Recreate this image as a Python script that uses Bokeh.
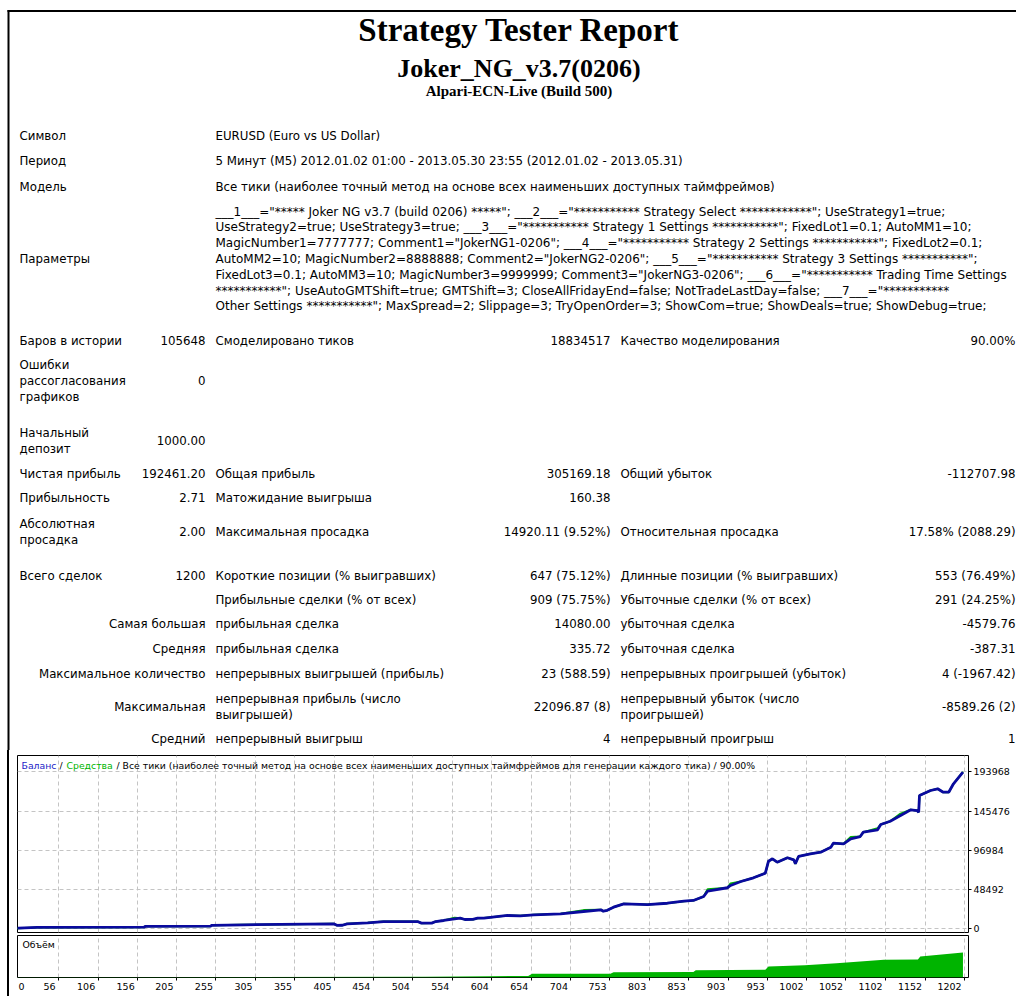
from bokeh.plotting import figure
from bokeh.layouts import column
from bokeh.models import (Range1d, FixedTicker, Label, ColumnDataSource,
                          BoxAnnotation, NumeralTickFormatter)
from bokeh.core.properties import value
from bokeh.embed import file_html
from bokeh.resources import INLINE

# ---------------------------------------------------------------- data
TITLE = "Strategy Tester Report"
EA_NAME = "Joker_NG_v3.7(0206)"
SERVER = "Alpari-ECN-Live (Build 500)"

HEAD_LABELS = ["Символ", "Период", "Модель"]
HEAD_VALUES = [
    "EURUSD (Euro vs US Dollar)",
    "5 Минут (M5) 2012.01.02 01:00 - 2013.05.30 23:55 (2012.01.02 - 2013.05.31)",
    "Все тики (наиболее точный метод на основе всех наименьших доступных таймфреймов)",
]
PARAM_LABEL = "Параметры"
PARAM_LINES = [
    '___1___="***** Joker NG v3.7 (build 0206) *****"; ___2___="*********** Strategy Select ************"; UseStrategy1=true;',
    'UseStrategy2=true; UseStrategy3=true; ___3___="*********** Strategy 1 Settings ***********"; FixedLot1=0.1; AutoMM1=10;',
    'MagicNumber1=7777777; Comment1="JokerNG1-0206"; ___4___="*********** Strategy 2 Settings ***********"; FixedLot2=0.1;',
    'AutoMM2=10; MagicNumber2=8888888; Comment2="JokerNG2-0206"; ___5___="*********** Strategy 3 Settings ***********";',
    'FixedLot3=0.1; AutoMM3=10; MagicNumber3=9999999; Comment3="JokerNG3-0206"; ___6___="*********** Trading Time Settings',
    '***********"; UseAutoGMTShift=true; GMTShift=3; CloseAllFridayEnd=false; NotTradeLastDay=false; ___7___="***********',
    'Other Settings ***********"; MaxSpread=2; Slippage=3; TryOpenOrder=3; ShowCom=true; ShowDeals=true; ShowDebug=true;',
]

STAT_LABEL1 = ["Баров в истории", "Ошибки\nрассогласования\nграфиков", "Начальный\nдепозит",
               "Чистая прибыль", "Прибыльность", "Абсолютная\nпросадка", "Всего сделок", "",
               "Самая большая", "Средняя", "Максимальное количество", "Максимальная", "Средний"]
STAT_VALUE1 = ["105648", "0", "1000.00", "192461.20", "2.71", "2.00", "1200", "", "", "", "", "", ""]
STAT_LABEL2 = ["Смоделировано тиков", "", "", "Общая прибыль", "Матожидание выигрыша",
               "Максимальная просадка", "Короткие позиции (% выигравших)",
               "Прибыльные сделки (% от всех)", "прибыльная сделка", "прибыльная сделка",
               "непрерывных выигрышей (прибыль)", "непрерывная прибыль (число\nвыигрышей)",
               "непрерывный выигрыш"]
STAT_VALUE2 = ["18834517", "", "", "305169.18", "160.38", "14920.11 (9.52%)", "647 (75.12%)",
               "909 (75.75%)", "14080.00", "335.72", "23 (588.59)", "22096.87 (8)", "4"]
STAT_LABEL3 = ["Качество моделирования", "", "", "Общий убыток", "", "Относительная просадка",
               "Длинные позиции (% выигравших)", "Убыточные сделки (% от всех)",
               "убыточная сделка", "убыточная сделка", "непрерывных проигрышей (убыток)",
               "непрерывный убыток (число\nпроигрышей)", "непрерывный проигрыш"]
STAT_VALUE3 = ["90.00%", "", "", "-112707.98", "", "17.58% (2088.29)", "553 (76.49%)",
               "291 (24.25%)", "-4579.76", "-387.31", "4 (-1967.42)", "-8589.26 (2)", "1"]

# balance / equity curve (trade number, account value)
TRADES = [0, 5, 29, 164, 166, 248, 250, 290, 404, 408, 415, 421, 447, 467, 510, 515, 528, 533,
          543, 557, 564, 570, 580, 586, 594, 624, 640, 657, 691, 720, 742, 745, 750, 758, 771,
          801, 826, 847, 859, 872, 877, 902, 906, 919, 935, 950, 954, 959, 965, 978, 986, 988,
          992, 1007, 1020, 1033, 1036, 1049, 1058, 1070, 1074, 1092, 1096, 1108, 1121, 1134,
          1142, 1144, 1145, 1159, 1168, 1175, 1182, 1188, 1200]
BALANCE = [1000, 1000, 2000, 2200, 3300, 3500, 4500, 5200, 6400, 4500, 4600, 6400, 7600, 9200,
           9200, 7200, 7300, 9200, 10500, 12600, 13300, 11700, 11800, 13300, 13500, 16700, 16200,
           17500, 18700, 21600, 23700, 22000, 23000, 26900, 31100, 30200, 31800, 34300, 35200,
           40100, 46700, 50900, 53700, 58600, 63200, 68900, 83700, 86600, 82400, 87900, 85400,
           80500, 89500, 92800, 94800, 101000, 105900, 105100, 111300, 114100, 119500, 122400,
           129000, 133000, 140000, 147100, 146200, 144100, 164700, 170900, 173000, 168800,
           168800, 179200, 193461]
EQUITY = [1000, 1000, 2000, 2200, 3300, 3500, 4500, 5200, 6400, 4500, 4600, 6400, 7600, 9200,
          9200, 7200, 7300, 9200, 10500, 14000, 13300, 11700, 11800, 13300, 13500, 16700, 16200,
          17500, 18700, 23300, 23700, 22000, 23000, 26900, 31100, 30200, 31800, 34300, 35200,
          40100, 49000, 50900, 56200, 58600, 63200, 68900, 83700, 86600, 82400, 87900, 85400,
          80500, 89500, 92800, 94800, 101000, 105900, 105100, 113600, 114100, 119500, 124300,
          129000, 133000, 142400, 147100, 146200, 144100, 164700, 170900, 173000, 168800,
          168800, 179200, 193968]

# traded volume (lots) per trade
VOL_TRADES = [0, 300, 520, 600, 650, 655, 754, 758, 859, 862, 950, 954, 1000, 1040, 1100, 1143,
              1146, 1200]
VOL_LOTS = [0.1, 0.3, 0.6, 1.0, 1.2, 2.9, 3.0, 4.1, 4.3, 5.6, 6.0, 8.6, 9.6, 11.0, 13.8, 14.0,
            16.4, 19.5]

X_TICKS = [0, 56, 106, 156, 205, 255, 305, 355, 405, 454, 504, 554, 604, 654, 704, 753, 803, 853,
           903, 953, 1002, 1052, 1102, 1152, 1202]
X_TICK_LABELS = [str(t) for t in X_TICKS]
Y_TICKS = [0, 48492, 96984, 145476, 193968]

LEGEND_BAL = "Баланс"
LEGEND_EQ = "Средства"
LEGEND_SEP = "/"
LEGEND_REST = "/ Все тики (наиболее точный метод на основе всех наименьших доступных таймфреймов для генерации каждого тика) / 90.00%"
VOLUME_LABEL = "Объём"

# ---------------------------------------------------------------- styles / layout
BODY_FONT = "DejaVu Sans"
BODY_SIZE = "11.8px"
PARAM_SIZE = "12px"
CHART_FONT = "DejaVu Sans"
CHART_SIZE = "9.5px"
LEGEND_SIZE = "9.3px"
BLUE = "#0a0a9e"
LEGEND_BLUE = "#1c1cc8"
GREEN = "#00b400"
GRID = "#c4c4c4"

W = 1016
TOP_H, BAL_H, VOL_H = 750, 185, 61
BORDER_L, BORDER_R = 17, 48
FRAME_W = W - BORDER_L - BORDER_R

X_MIN, X_MAX = 4, 1207
Y_MIN, Y_MAX = -4320, 214100
V_MIN, V_MAX = 0, 32.7


def add_texts(fig, xs, ys, texts, align="left", font=BODY_FONT, size=BODY_SIZE,
              style="normal", color="#000000", baseline="middle"):
    src = ColumnDataSource(dict(x=xs, y=ys, text=texts))
    fig.text(x="x", y="y", text="text", source=src, text_align=align,
             text_baseline=baseline, text_font=value(font), text_font_size=size,
             text_font_style=style, text_color=color)


# ---------------------------------------------------------------- report part (pixel coordinates)
top = figure(width=W, height=TOP_H, x_range=Range1d(0, W), y_range=Range1d(TOP_H, 0),
             output_backend="svg", toolbar_location=None, min_border=0,
             x_axis_location=None, y_axis_location=None, outline_line_color=None,
             styles={"overflow": "hidden"})
top.grid.visible = False
# page border (top and left)
top.add_layout(BoxAnnotation(left=7, right=W, top=9.5, bottom=11.5, fill_color="#000000",
                             fill_alpha=1, line_color=None))
top.add_layout(BoxAnnotation(left=7, right=9, top=9.5, bottom=TOP_H, fill_color="#000000",
                             fill_alpha=1, line_color=None))

CX = 518.5
add_texts(top, [CX], [29], [TITLE], align="center", font="Liberation Serif", size="33px",
          style="bold", baseline="alphabetic")
add_texts(top, [CX], [68], [EA_NAME], align="center", font="Liberation Serif", size="26px",
          style="bold", baseline="alphabetic")
add_texts(top, [CX], [90], [SERVER], align="center", font="Liberation Serif", size="15px",
          style="bold", baseline="alphabetic")

X_L1, X_V1, X_L2, X_V2, X_L3, X_V3 = 19, 205, 215, 610, 620, 1015
LINE_STEP = 16

left_x, left_y, left_t = [], [], []
right_x, right_y, right_t = [], [], []

HEAD_Y = [135, 160, 186]
for lab, val, y in zip(HEAD_LABELS, HEAD_VALUES, HEAD_Y):
    left_x += [X_L1, X_L2]
    left_y += [y, y]
    left_t += [lab, val]

PARAM_Y0 = 211
PARAM_STEP = 15.8
add_texts(top, [X_L2] * len(PARAM_LINES),
          [PARAM_Y0 + i * PARAM_STEP for i in range(len(PARAM_LINES))],
          PARAM_LINES, align="left", size=PARAM_SIZE)
left_x.append(X_L1)
left_y.append(PARAM_Y0 + 3 * PARAM_STEP)
left_t.append(PARAM_LABEL)

ROW_Y = [340, 380, 440, 473, 497, 531, 575, 599, 623, 648, 673, 706, 738]
RIGHT_LABEL_ROWS = {8, 9, 10, 11, 12}


def multiline(text, yc):
    parts = text.split("\n")
    n = len(parts)
    return [(p, yc + (k - (n - 1) / 2) * LINE_STEP) for k, p in enumerate(parts)]


for r, yc in enumerate(ROW_Y):
    for p, y in multiline(STAT_LABEL1[r], yc):
        if not p:
            continue
        if r in RIGHT_LABEL_ROWS:
            right_x.append(X_V1); right_y.append(y); right_t.append(p)
        else:
            left_x.append(X_L1); left_y.append(y); left_t.append(p)
    for lab, xl in ((STAT_LABEL2[r], X_L2), (STAT_LABEL3[r], X_L3)):
        for p, y in multiline(lab, yc):
            if p:
                left_x.append(xl); left_y.append(y); left_t.append(p)
    for val, xv in ((STAT_VALUE1[r], X_V1), (STAT_VALUE2[r], X_V2), (STAT_VALUE3[r], X_V3)):
        if val:
            right_x.append(xv); right_y.append(yc); right_t.append(val)

add_texts(top, left_x, left_y, left_t, align="left")
add_texts(top, right_x, right_y, right_t, align="right")

# ---------------------------------------------------------------- balance chart
bal = figure(width=W, height=BAL_H, x_range=Range1d(X_MIN, X_MAX), y_range=Range1d(Y_MIN, Y_MAX),
             output_backend="svg", toolbar_location=None,
             min_border_left=BORDER_L, min_border_right=BORDER_R, min_border_top=5,
             min_border_bottom=3, x_axis_location=None, y_axis_location="right",
             outline_line_color="#000000", outline_line_width=1, border_fill_color=None)
yax = bal.yaxis[0]
yax.ticker = FixedTicker(ticks=Y_TICKS)
yax.formatter = NumeralTickFormatter(format="0")
yax.axis_line_color = None
yax.major_tick_in = 0
yax.major_tick_out = 3
yax.major_tick_line_color = "#000000"
yax.minor_tick_line_color = None
yax.major_label_standoff = 2
yax.major_label_text_font = CHART_FONT
yax.major_label_text_font_size = CHART_SIZE
yax.major_label_text_color = "#000000"

bal.xgrid.ticker = FixedTicker(ticks=X_TICKS)
bal.ygrid.ticker = FixedTicker(ticks=Y_TICKS)
for g in (bal.xgrid, bal.ygrid):
    g.grid_line_color = GRID
    g.grid_line_dash = "4 3"
    g.grid_line_width = 1

bal.line(TRADES, EQUITY, line_color=GREEN, line_width=2)
bal.line(TRADES, BALANCE, line_color=BLUE, line_width=2.8)

legend_specs = [(LEGEND_BAL, LEGEND_BLUE, 4), (LEGEND_SEP, "#000000", 42), (LEGEND_EQ, GREEN, 49),
                (LEGEND_REST, "#000000", 99)]
for txt, col, off in legend_specs:
    bal.add_layout(Label(x=X_MIN, y=Y_MAX, x_offset=off, y_offset=-10, text=txt,
                         text_color=col, text_font=CHART_FONT, text_font_size=LEGEND_SIZE,
                         text_baseline="middle", text_align="left"))

# ---------------------------------------------------------------- volume chart
vol = figure(width=W, height=VOL_H, x_range=bal.x_range, y_range=Range1d(V_MIN, V_MAX),
             output_backend="svg", toolbar_location=None,
             min_border_left=BORDER_L, min_border_right=BORDER_R, min_border_top=0,
             min_border_bottom=19, x_axis_location="below", y_axis_location=None,
             outline_line_color="#000000", outline_line_width=1, border_fill_color=None)

# tick labels sit just left of their grid line; the first one at the frame edge
PPU = FRAME_W / (X_MAX - X_MIN)
DIGIT_W = 6.0
label_pos = []
for t, lab in zip(X_TICKS, X_TICK_LABELS):
    if t < X_MIN:
        pos = X_MIN + (1 + len(lab) * DIGIT_W / 2) / PPU
    else:
        pos = t - (3 + len(lab) * DIGIT_W / 2) / PPU
    label_pos.append(round(pos, 3))

xax = vol.xaxis[0]
xax.ticker = FixedTicker(ticks=label_pos, minor_ticks=[t for t in X_TICKS if t >= X_MIN])
xax.major_label_overrides = {p: lab for p, lab in zip(label_pos, X_TICK_LABELS)}
xax.axis_line_color = None
xax.major_tick_in = 0
xax.major_tick_out = 3
xax.major_tick_line_color = None
xax.minor_tick_in = 0
xax.minor_tick_out = 3
xax.minor_tick_line_color = "#000000"
xax.major_label_standoff = 2
xax.major_label_text_font = CHART_FONT
xax.major_label_text_font_size = CHART_SIZE
xax.major_label_text_color = "#000000"

vol.xgrid.ticker = FixedTicker(ticks=X_TICKS)
vol.xgrid.grid_line_color = GRID
vol.xgrid.grid_line_dash = "4 3"
vol.ygrid.visible = False

vol.varea(x=VOL_TRADES, y1=[0] * len(VOL_LOTS), y2=VOL_LOTS, fill_color=GREEN)

vol.add_layout(Label(x=X_MIN, y=V_MAX, x_offset=5, y_offset=-9, text=VOLUME_LABEL,
                     text_align="left", text_baseline="middle", text_font=CHART_FONT,
                     text_font_size=LEGEND_SIZE, text_color="#000000"))

# page border on the left of the chart block (canvas borders are transparent)
charts = column(bal, vol, styles={
    "background": "linear-gradient(90deg, #ffffff 7px, #000000 7px, #000000 9px, #ffffff 9px)"})

with open("out.html", "w") as f:
    f.write(file_html([top, charts], INLINE))
